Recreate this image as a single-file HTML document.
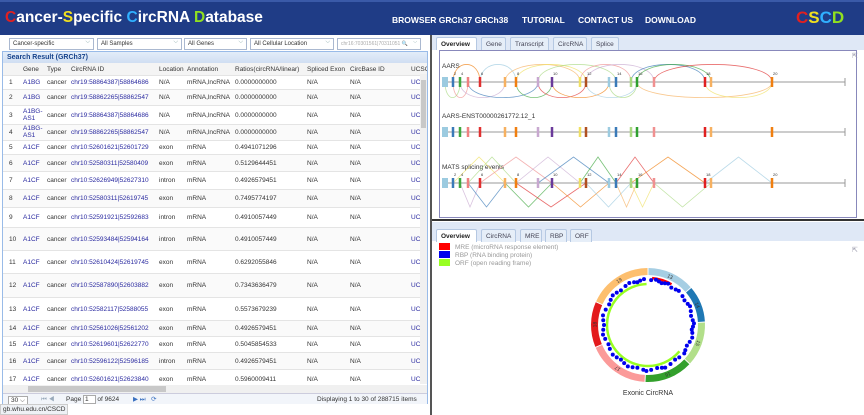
<!DOCTYPE html>
<html><head><meta charset="utf-8">
<style>
*{box-sizing:border-box;margin:0;padding:0}
body{width:864px;height:415px;overflow:hidden;background:#fff;font-family:"Liberation Sans",sans-serif;font-size:6.5px;color:#333;position:relative}
.abs{position:absolute}
#hdr{left:0;top:0;width:864px;height:35px;background:#1f3c86;border-top:2px solid #3a5aa8}
#title{left:5px;top:9px;font-size:15.5px;font-weight:bold;color:#fff;white-space:nowrap}
.nav{top:15px;font-size:8.5px;font-weight:bold;color:#fff;white-space:nowrap}
.sel{top:38px;height:12px;border:1px solid #aab8d0;background:#fff;font-size:6px;padding:2px 3px;color:#333}
.sel:after{content:"⌵";position:absolute;right:3px;top:0;color:#8aa}
#leftp{left:2px;top:51px;width:426px;height:353px;border:1px solid #99bbe8;background:#fff}
.row{position:absolute;left:0;width:424px;border-bottom:1px solid #e4e4e4}
.c{position:absolute;white-space:nowrap;line-height:1.15}
.lnk{color:#2a2aa0}
.tab{position:absolute;height:13px;border:1px solid #b5c8e2;border-bottom:none;background:#e6eef8;font-size:6.5px;color:#445;padding:3px 4px;border-radius:2px 2px 0 0}
.tab.on{background:#fff;font-weight:bold;color:#222}
</style></head><body>
<div id="hdr" class="abs"></div>
<div id="title" class="abs"><span style="color:#e02020">C</span>ancer-<span style="color:#f0e020">S</span>pecific <span style="color:#30b0ff">C</span>ircRNA <span style="color:#90e020">D</span>atabase</div>
<div class="abs nav" style="left:392px">BROWSER GRCh37 GRCh38</div>
<div class="abs nav" style="left:522px">TUTORIAL</div>
<div class="abs nav" style="left:578px">CONTACT US</div>
<div class="abs nav" style="left:645px">DOWNLOAD</div>
<div class="abs" style="left:796px;top:8px;font-size:17px;font-weight:bold"><span style="color:#e02020">C</span><span style="color:#f0e020">S</span><span style="color:#30b0ff">C</span><span style="color:#90e020">D</span></div>

<div class="abs sel" style="left:9px;width:85px">Cancer-specific</div>
<div class="abs sel" style="left:97px;width:85px">All Samples</div>
<div class="abs sel" style="left:184px;width:63px">All Genes</div>
<div class="abs sel" style="left:250px;width:84px">All Cellular Location</div>
<div class="abs sel" style="left:337px;width:84px;color:#aaa;font-size:5px">chr16:70301561|70311051 🔍</div>

<div id="leftp" class="abs">
<div class="abs" style="left:0;top:0;width:424px;height:11px;background:linear-gradient(#e3edf9,#d0def2);font-weight:bold;color:#15428b;padding:2px 4px;font-size:7px">Search Result (GRCh37)</div>
<div id="tbl" class="abs" style="left:0;top:11px;width:424px;height:322px;overflow:hidden"></div>
<div class="abs" style="left:0;top:333px;width:424px;height:8px;background:#f0f0f0"><div class="abs" style="left:25px;top:1px;width:138px;height:6px;background:#c8c8c8"></div></div>
<div class="abs" style="left:417px;top:22px;width:7px;height:310px;background:#f0f0f0"><div class="abs" style="left:1px;top:6px;width:5px;height:48px;background:#c8c8c8"></div></div>
<div class="abs" style="left:0;top:341px;width:424px;height:11px;background:#f2f5fa;border-top:1px solid #ccd">
<div class="c" style="left:5px;top:2px;border:1px solid #aaa;background:#fff;padding:0 2px">30 ⌵</div>
<div class="c" style="left:38px;top:2px;color:#9ab">⏮ ◀</div>
<div class="c" style="left:63px;top:2px">Page <span style="border:1px solid #aaa;background:#fff;padding:0 6px 0 1px">1</span> of 9624</div>
<div class="c" style="left:130px;top:2px;color:#3a70c0">▶ ⏭ &nbsp; ⟳</div>
<div class="c" style="left:314px;top:2px">Displaying 1 to 30 of 288715 items</div>
</div>
</div>
<div class="abs" style="left:0;top:404px;width:68px;height:11px;background:#eef1f5;border:1px solid #ccc;font-size:6.5px;padding:1px 2px">gb.whu.edu.cn/CSCD</div>
<div class="abs" style="left:430px;top:35px;width:2px;height:380px;background:#555"></div>

<div class="abs" style="left:432px;top:35px;width:432px;height:15px;background:#dfe8f6"></div>
<div class="tab on" style="left:436px;top:37px;width:41px">Overview</div>
<div class="tab" style="left:481px;top:37px;width:25px">Gene</div>
<div class="tab" style="left:510px;top:37px;width:39px">Transcript</div>
<div class="tab" style="left:553px;top:37px;width:34px">CircRNA</div>
<div class="tab" style="left:591px;top:37px;width:28px">Splice</div>
<svg class="abs" style="left:432px;top:50px" width="432" height="172" id="splice"></svg>
<div class="abs" style="left:432px;top:219px;width:432px;height:2px;background:#333"></div>

<div class="abs" style="left:432px;top:222px;width:432px;height:19px;background:#dfe8f6"></div>
<div class="tab on" style="left:436px;top:229px;width:41px">Overview</div>
<div class="tab" style="left:481px;top:229px;width:35px">CircRNA</div>
<div class="tab" style="left:520px;top:229px;width:22px">MRE</div>
<div class="tab" style="left:545px;top:229px;width:22px">RBP</div>
<div class="tab" style="left:570px;top:229px;width:22px">ORF</div>
<svg class="abs" style="left:432px;top:241px" width="432" height="174" id="circ"></svg>

<script>
const NS='http://www.w3.org/2000/svg';
function mk(p,t,a){const e=document.createElementNS(NS,t);for(const k in a)e.setAttribute(k,a[k]);p.appendChild(e);return e;}
const rowNums=[1,2,3,4,5,6,7,8,9,10,11,12,13,14,15,16,17];
const genes=['A1BG','A1BG','A1BG-<br>AS1','A1BG-<br>AS1','A1CF','A1CF','A1CF','A1CF','A1CF','A1CF','A1CF','A1CF','A1CF','A1CF','A1CF','A1CF','A1CF'];
const ids=['chr19:58864387|58864686','chr19:58862265|58862547','chr19:58864387|58864686','chr19:58862265|58862547','chr10:52601621|52601729','chr10:52580311|52580409','chr10:52626949|52627310','chr10:52580311|52619745','chr10:52591921|52592683','chr10:52593484|52594164','chr10:52610424|52619745','chr10:52587890|52603882','chr10:52582117|52588055','chr10:52561026|52561202','chr10:52619601|52622770','chr10:52596122|52596185','chr10:52601621|52623840'];
const locs=['N/A','N/A','N/A','N/A','exon','exon','intron','exon','intron','intron','exon','exon','exon','exon','exon','intron','exon'];
const annos=['mRNA,lncRNA','mRNA,lncRNA','mRNA,lncRNA','mRNA,lncRNA','mRNA','mRNA','mRNA','mRNA','mRNA','mRNA','mRNA','mRNA','mRNA','mRNA','mRNA','mRNA','mRNA'];
const ratios=['0.0000000000','0.0000000000','0.0000000000','0.0000000000','0.4941071296','0.5129644451','0.4926579451','0.7495774197','0.4910057449','0.4910057449','0.6292055846','0.7343636479','0.5573679239','0.4926579451','0.5045854533','0.4926579451','0.5960009411'];
const rowH=[14,16,19,16,14,17,18,18,20,23,23,24,23,16,16,17,20];
const tbl=document.getElementById('tbl');
const colX=[2,18,42,66,154,182,230,302,345,406];
function hdrRow(){const r=document.createElement('div');r.className='row';r.style.top='0px';r.style.height='13px';r.style.background='#f4f4f4';

['','Gene','Type','CircRNA ID','Location','Annotation','Ratios(circRNA/linear)','Spliced Exon','CircBase ID','UCSC'].forEach((t,i)=>{const c=document.createElement('div');c.className='c';c.style.left=(colX[i]+2)+'px';c.style.top='3px';c.textContent=t;r.appendChild(c);});tbl.appendChild(r);}
hdrRow();
let y=13;
rowNums.forEach((n,i)=>{const r=document.createElement('div');r.className='row';r.style.top=y+'px';r.style.height=rowH[i]+'px';if(i%2)r.style.background='#fafafa';


const vals=[n,genes[i],'cancer',ids[i],locs[i],annos[i],ratios[i],'N/A','N/A','UC'];
vals.forEach((t,j)=>{const c=document.createElement('div');c.className='c'+((j==1||j==3||j==9)?' lnk':'');c.style.left=(colX[j]+(j==0?4:2))+'px';
const multi=String(t).includes('<br>');c.style.top=(multi?(rowH[i]/2-8):(rowH[i]/2-4))+'px';c.innerHTML=t;r.appendChild(c);});
tbl.appendChild(r);y+=rowH[i];});
const sp=document.getElementById('splice');
mk(sp,'rect',{x:7.5,y:0.5,width:417,height:167,fill:'#fff',stroke:'#8888bb'});
const exonX=[445,453,460,468,480,505,516,538,552,580,586,609,616,631,637,654,705,711,772];
const exonC=['#9ccbe0','#3a7ab8','#40a840','#f08080','#e03030','#f6b060','#f07f10','#c8a8d0','#6a3a9a','#f0e060','#b05020','#9ccbe0','#3a7ab8','#a8d880','#30a030','#f09090','#e02020','#f6b060','#f07f10'];
const exonLabels=['','2','4','','6','','8','','10','','12','','14','','16','','18','','20'];
const tracks=[32,82,133];
const trackNames=['AARS','AARS-ENST00000261772.12_1','MATS splicing events'];
const arcColors=['#9ccbe0','#f6b060','#f0e060','#a8d880','#f09090','#c8a8d0','#3a7ab8','#40a840','#e03030','#f07f10'];
const upArcs=[[4,6],[5,9],[6,10],[7,12],[9,13],[10,15],[13,16],[14,17],[15,18],[1,4]];
const downArcs=[[0,2],[1,3],[2,5],[3,7],[6,8],[7,10],[8,11],[10,14],[14,18],[16,18],[11,14]];
const matsUp=[[1,5],[3,6],[4,8],[6,9],[7,11],[9,12],[12,15],[13,16],[16,18]];
const matsDown=[[2,4],[3,5],[5,8],[6,10],[8,11],[10,13],[12,14],[13,15],[15,17]];
const X=v=>v-432;
tracks.forEach((ty,t)=>{
  mk(sp,'text',{x:10,y:ty-14,'font-size':6.5,fill:'#333','font-family':'Liberation Sans'}).textContent=trackNames[t];
  mk(sp,'line',{x1:X(445),x2:X(845),y1:ty,y2:ty,stroke:'#999','stroke-width':1});
  mk(sp,'line',{x1:X(845),x2:X(845),y1:ty-4,y2:ty+4,stroke:'#999'});
});
function arc(a,b,ty,up,col,h,tri){const x1=X(exonX[a]),x2=X(exonX[b]);const d=up?-1:1;
 if(tri) mk(sp,'path',{d:`M${x1},${ty}L${(x1+x2)/2},${ty+d*h}L${x2},${ty}`,fill:'none',stroke:col,'stroke-width':0.8,opacity:0.7});
 else mk(sp,'path',{d:`M${x1},${ty}C${x1},${ty+d*h*1.3} ${x2},${ty+d*h*1.3} ${x2},${ty}`,fill:'none',stroke:col,'stroke-width':0.8,opacity:0.7});}
upArcs.forEach((p,i)=>arc(p[0],p[1],tracks[0],true,arcColors[i%10],18,false));
downArcs.forEach((p,i)=>arc(p[0],p[1],tracks[0],false,arcColors[(i+3)%10],16,false));
matsUp.forEach((p,i)=>arc(p[0],p[1],tracks[2],true,arcColors[(i+2)%10],26,true));
matsDown.forEach((p,i)=>arc(p[0],p[1],tracks[2],false,arcColors[(i+5)%10],24,true));
tracks.forEach((ty,t)=>{exonX.forEach((ex,i)=>{
  const w=i==0?6:2.5;const e=mk(sp,'rect',{x:X(ex)-w/2,y:ty-5,width:w,height:10,fill:exonC[i]});
  
  
  if(t!=1&&exonLabels[i]) mk(sp,'text',{x:X(ex)+1,y:ty-7,'font-size':4,fill:'#333'}).textContent=exonLabels[i];});});
mk(sp,'text',{x:420,y:8,'font-size':7,fill:'#99a'}).textContent='⇱';
const cs=document.getElementById('circ');
const legendNames=['MRE (microRNA response element)','RBP (RNA binding protein)','ORF (open reading frame)'];
const legendCols=['#ff0000','#0000ee','#99ff22'];
legendNames.forEach((n,i)=>{mk(cs,'rect',{x:7,y:2+i*8,width:11,height:7,fill:legendCols[i]});
 mk(cs,'text',{x:23,y:8+i*8,'font-size':6.5,fill:'#999','font-family':'Liberation Sans'}).textContent=n;});
mk(cs,'text',{x:420,y:11,'font-size':7,fill:'#99a'}).textContent='⇱';
const cx=648-432, cy=325-241;
const segLabels=['13','14','15','16','17','18','19'];
const segStart=[0,49,87,133,183,247,294];
const segEnd=[49,87,133,183,247,294,360];
const segCols=['#a6cee3','#1f78b4','#b2df8a','#33a02c','#fb9a99','#e31a1c','#fdbf6f'];
function pt(r,deg){const a=(deg-90)*Math.PI/180;return [cx+r*Math.cos(a),cy+r*Math.sin(a)];}
function arcPath(r,a0,a1){const [x0,y0]=pt(r,a0),[x1,y1]=pt(r,a1);return `M${x0},${y0}A${r},${r} 0 ${a1-a0>180?1:0} 1 ${x1},${y1}`;}
segStart.forEach((s,i)=>{const p=mk(cs,'path',{d:arcPath(53.5,s+0.5,segEnd[i]-0.5),fill:'none',stroke:segCols[i],'stroke-width':7});
 
 
 const m=(s+segEnd[i])/2;const [lx,ly]=pt(53.5,m);
 mk(cs,'text',{x:lx,y:ly+2,'font-size':5,'text-anchor':'middle',fill:'#333',transform:`rotate(${m} ${lx} ${ly})`}).textContent=segLabels[i];});
const orfStart=[130], orfEnd=[358];
orfStart.forEach((s,i)=>mk(cs,'path',{d:arcPath(41,s,orfEnd[i]),fill:'none',stroke:'#99ff22','stroke-width':2.5}));
const mreStart=[5], mreEnd=[30];
mreStart.forEach((s,i)=>mk(cs,'path',{d:arcPath(47,s,mreEnd[i]),fill:'none',stroke:'#ff0000','stroke-width':2.5}));
const rbpAngles=[4,10,14,18,22,26,32,38,42,50,56,62,66,72,78,84,88,92,96,100,106,112,118,124,128,136,142,150,158,162,168,176,182,186,194,200,206,212,218,224,230,238,244,252,258,264,270,276,282,290,298,304,310,316,322,330,336,342,346,350,355];
const rbpRadius=[45,46,45,44,45,46,44,45,46,45,44,45,46,45,44,45,46,45,44,45,46,45,44,45,46,45,44,45,46,45,44,45,46,45,44,45,46,45,44,45,46,45,44,45,46,45,44,45,46,45,44,45,46,45,44,45,46,45,44,45,46];
rbpAngles.forEach((a,i)=>{const [x,y]=pt(rbpRadius[i],a);const c=mk(cs,'circle',{cx:x,cy:y,r:2,fill:'#0000ee'});
 
 });
mk(cs,'text',{x:cx,y:154,'font-size':7,'text-anchor':'middle',fill:'#333','font-family':'Liberation Sans'}).textContent='Exonic CircRNA';
</script>
</body></html>
